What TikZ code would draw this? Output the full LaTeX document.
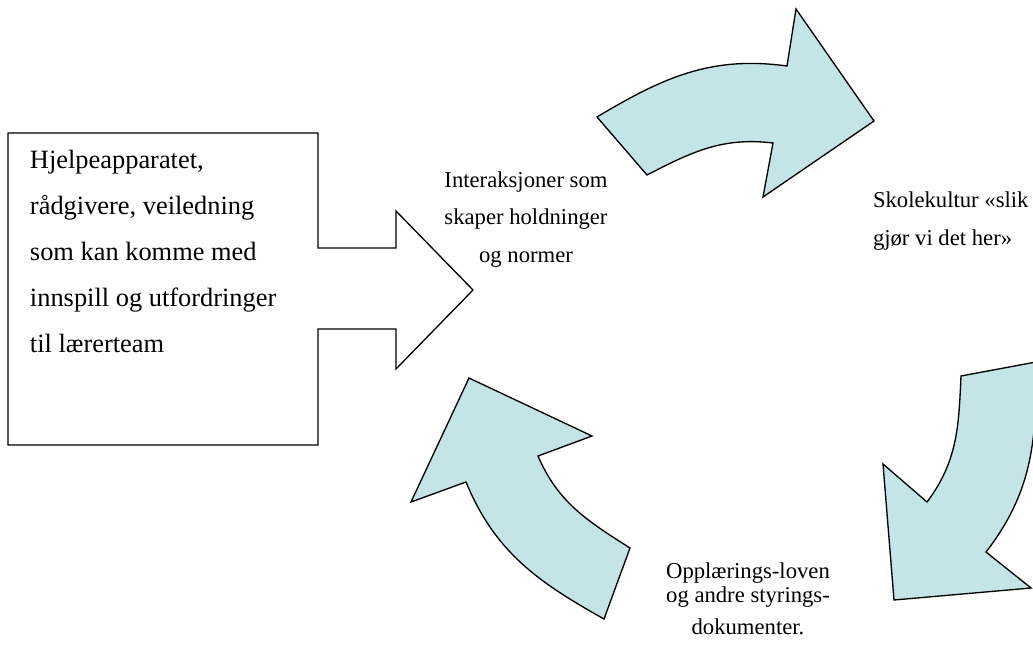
\documentclass[tikz,border=0pt]{standalone}
\usepackage{fontspec}
\setmainfont{Liberation Serif}
\usetikzlibrary{positioning}
\definecolor{paleteal}{RGB}{196,229,232}

\begin{document}
\begin{tikzpicture}[%
      x=0.75pt, y=-0.75pt,
      every node/.style={inner sep=0pt, outer sep=0pt},
      bigtext/.style={align=left, anchor=base west, font=\fontsize{19.8}{34.5}\selectfont},
      smalltext/.style={align=center, anchor=base, font=\fontsize{17}{28}\selectfont},
      cyclearrow/.style={draw, fill=paleteal, line width=1pt, line join=miter},
      callout/.style={draw, line width=1pt, line join=miter}
    ]
    \clip (0,0) rectangle (1033,646);
    \draw [callout] (8,133) -- (318,133) -- (318,248) -- (396,248) -- (396,211)
      -- (473,290) -- (396,369) -- (396,329) -- (318,329) -- (318,445) -- (8,445) -- cycle;
    \draw [cyclearrow] (597,117) to[out=30.9, in=172.2] (787,66) -- (796,9) -- (874,121)
      -- (763,197) -- (773,143) to[out=173.1, in=27.3] (647,175) -- cycle;
    \draw [cyclearrow] (1036,362) to[out=-89.4, in=52.2] (986,552) -- (1031,588) -- (894,600)
      -- (883,464) -- (927,502) to[out=53.1, in=-92.6] (961,376) -- cycle;
    \draw [cyclearrow] (604,619) to[out=150.7, in=-67.5] (466,482) -- (411,502) -- (469,378)
      -- (592,436) -- (538,456) to[out=-66.6, in=147.5] (630,548) -- cycle;
    \node [bigtext] (helper) at (30,352) {Hjelpeapparatet,\\rådgivere, veiledning\\som kan komme med\\innspill og utfordringer\\til lærerteam};
    \node [smalltext] (interaction) at (526,262) {Interaksjoner som\\skaper holdninger\\og normer};
    \node [smalltext, align=left, anchor=base west] (culture) at (873,245) {Skolekultur «slik\\gjør vi det her»};
    \node [smalltext, font=\fontsize{17}{18.5}\selectfont] (law) at (748,634) {Opplærings-loven\\og andre styrings-\\[5pt]dokumenter.};
\end{tikzpicture}
\end{document}
